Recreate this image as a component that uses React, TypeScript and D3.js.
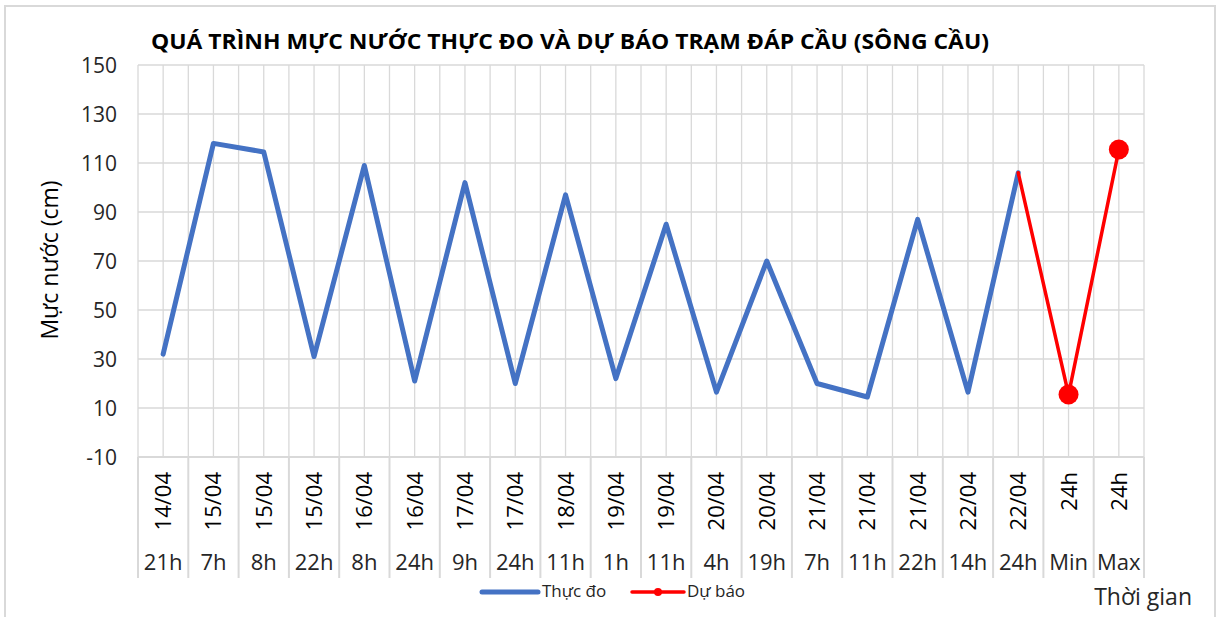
import React, { useRef, useEffect } from 'react';
import * as d3 from 'd3';

const dates = ['14/04', '15/04', '15/04', '15/04', '16/04', '16/04', '17/04', '17/04', '18/04', '19/04',
  '19/04', '20/04', '20/04', '21/04', '21/04', '21/04', '22/04', '22/04', '24h', '24h'];
const hours = ['21h', '7h', '8h', '22h', '8h', '24h', '9h', '24h', '11h', '1h',
  '11h', '4h', '19h', '7h', '11h', '22h', '14h', '24h', 'Min', 'Max'];
const measured = [32, 118, 114.5, 31, 109, 21, 102, 20, 97, 22, 85, 16.5, 70, 20, 14.5, 87, 16.5, 106];
// forecast starts from the last measured point
const forecast = [null, null, null, null, null, null, null, null, null, null,
  null, null, null, null, null, null, null, 106, 15.5, 115.5];
const yTicks = [-10, 10, 30, 50, 70, 90, 110, 130, 150];

const W = 1217;
const H = 617;
const FONT = '"Open Sans", "Noto Sans", sans-serif';

export default function App() {
  const ref = useRef(null);

  useEffect(() => {
    const svg = d3.select(ref.current);
    svg.selectAll('*').remove();

    const left = 138, right = 1144, top = 65, bottom = 457;
    const x = d3.scaleBand().domain(d3.range(hours.length)).range([left, right]);
    const bw = x.bandwidth();
    const cx = i => x(i) + bw / 2;
    const y = d3.scaleLinear().domain([-10, 150]).range([bottom, top]);

    // chart frame
    svg.append('path')
      .attr('d', `M5,${H}V6H1215V${H}`)
      .attr('fill', 'none')
      .attr('stroke', '#d9d9d9')
      .attr('stroke-width', 2);

    // title
    svg.append('text')
      .attr('x', 570).attr('y', 49)
      .attr('text-anchor', 'middle')
      .attr('font-family', FONT)
      .attr('font-weight', 'bold')
      .attr('font-size', 22)
      .attr('textLength', 838)
      .attr('lengthAdjust', 'spacingAndGlyphs')
      .attr('fill', '#000')
      .text('QUÁ TRÌNH MỰC NƯỚC THỰC ĐO VÀ DỰ BÁO TRẠM ĐÁP CẦU (SÔNG CẦU)');

    const grid = svg.append('g').attr('stroke', '#d9d9d9').attr('stroke-width', 1.3);
    // vertical gridlines at category boundaries and centres
    const vx = [];
    hours.forEach((h, i) => { vx.push(x(i)); vx.push(cx(i)); });
    vx.push(right);
    grid.selectAll('line.v').data(vx).enter().append('line')
      .attr('x1', d => d).attr('x2', d => d)
      .attr('y1', top).attr('y2', bottom);
    grid.selectAll('line.h').data(yTicks).enter().append('line')
      .attr('x1', left).attr('x2', right)
      .attr('y1', d => y(d)).attr('y2', d => y(d));

    // y tick labels
    svg.append('g').selectAll('text').data(yTicks).enter().append('text')
      .attr('x', 117).attr('y', d => y(d) + 7.5)
      .attr('text-anchor', 'end')
      .attr('font-family', FONT).attr('font-size', 21)
      .attr('fill', '#262626')
      .text(d => d);

    svg.append('text')
      .attr('transform', 'translate(58,260) rotate(-90)')
      .attr('text-anchor', 'middle')
      .attr('font-family', FONT).attr('font-size', 23)
      .attr('fill', '#000')
      .text('Mực nước (cm)');

    // category axis (two levels)
    const ax = svg.append('g');
    ax.append('line')
      .attr('x1', left).attr('x2', right)
      .attr('y1', bottom).attr('y2', bottom)
      .attr('stroke', '#d9d9d9').attr('stroke-width', 2);
    const bounds = hours.map((h, i) => x(i)).concat([right]);
    ax.selectAll('line.d').data(bounds).enter().append('line')
      .attr('x1', d => d).attr('x2', d => d)
      .attr('y1', bottom).attr('y2', 578)
      .attr('stroke', '#d9d9d9').attr('stroke-width', 2);
    ax.selectAll('text.date').data(dates).enter().append('text')
      .attr('transform', (d, i) => `translate(${cx(i) + 8},472) rotate(-90)`)
      .attr('text-anchor', 'end')
      .attr('font-family', FONT).attr('font-size', 22)
      .attr('fill', '#000')
      .text(d => d);
    ax.selectAll('text.hour').data(hours).enter().append('text')
      .attr('x', (d, i) => cx(i)).attr('y', 570)
      .attr('text-anchor', 'middle')
      .attr('font-family', FONT).attr('font-size', 22)
      .attr('fill', '#262626')
      .text(d => d);

    svg.append('text')
      .attr('x', 1192).attr('y', 605)
      .attr('text-anchor', 'end')
      .attr('font-family', FONT).attr('font-size', 23)
      .attr('fill', '#262626')
      .text('Thời gian');

    // lines
    const line = d3.line()
      .defined(d => d != null)
      .x((d, i) => cx(i))
      .y(d => y(d));

    svg.append('path')
      .datum(measured)
      .attr('d', line)
      .attr('fill', 'none')
      .attr('stroke', '#4472C4')
      .attr('stroke-width', 5)
      .attr('stroke-linejoin', 'round')
      .attr('stroke-linecap', 'round');

    svg.append('path')
      .datum(forecast)
      .attr('d', line)
      .attr('fill', 'none')
      .attr('stroke', '#FF0000')
      .attr('stroke-width', 3.5)
      .attr('stroke-linejoin', 'round')
      .attr('stroke-linecap', 'round');

    svg.append('g').selectAll('circle')
      .data(forecast.map((v, i) => ({ v, i })).slice(18))
      .enter().append('circle')
      .attr('cx', d => cx(d.i)).attr('cy', d => y(d.v))
      .attr('r', 10)
      .attr('fill', '#FF0000');

    // legend
    const lg = svg.append('g').attr('font-family', FONT).attr('font-size', 17).attr('fill', '#262626');
    lg.append('line').attr('x1', 482).attr('x2', 538).attr('y1', 592).attr('y2', 592)
      .attr('stroke', '#4472C4').attr('stroke-width', 5).attr('stroke-linecap', 'round');
    lg.append('text').attr('x', 542).attr('y', 597).text('Thực đo');
    lg.append('line').attr('x1', 632).attr('x2', 684).attr('y1', 592).attr('y2', 592)
      .attr('stroke', '#FF0000').attr('stroke-width', 3.5).attr('stroke-linecap', 'round');
    lg.append('circle').attr('cx', 658).attr('cy', 592).attr('r', 4).attr('fill', '#FF0000');
    lg.append('text').attr('x', 687).attr('y', 597).text('Dự báo');
  }, []);

  return (
    <svg ref={ref} width={W} height={H} style={{ position: 'absolute', left: 0, top: 0, background: '#fff' }}></svg>
  );
}
